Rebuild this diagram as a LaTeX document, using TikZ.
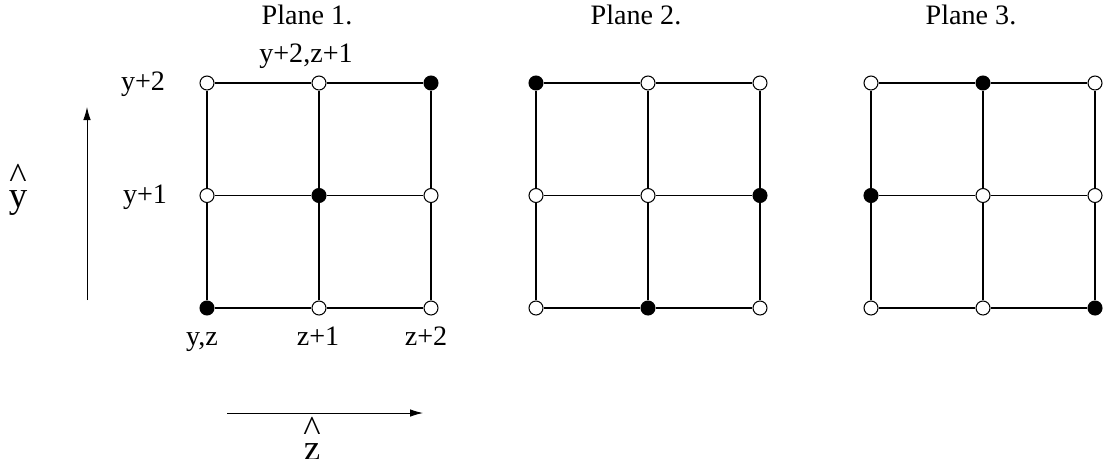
\documentclass[tikz,border=0pt]{standalone}
\usepackage{fontspec}
\setmainfont{Liberation Serif}
\usetikzlibrary{positioning,arrows.meta}

\begin{document}
\begin{tikzpicture}[
    x=0.02cm,
    y=-0.02cm,
    font=\fontsize{16}{19}\selectfont,
    site/.style={
        circle,
        draw,
        fill=white,
        line width=0.6pt,
        minimum size=0.28cm,
        inner sep=0pt
      },
    full/.style={site,fill=black},
    bond/.style={line width=0.7pt},
    hat/.style={align=center,inner sep=1pt,font=\fontsize{21}{11}\selectfont},
    arrow/.style={-{Latex[length=2.6mm,width=1.5mm]},line width=0.5pt}
    ]
    \useasboundingbox (0,0) rectangle (1105,458);

    % three planes, black site sits at column (row+plane-1) mod 3
    \foreach \p/\x in {1/207,2/536,3/871} {
        \node (title\p) at (\x+100,15) {Plane \p.};
        \foreach \c in {0,1,2} {
            \foreach \r in {0,1,2} {
                \pgfmathtruncatemacro\k{mod(\r+\p-1,3)}
                \ifnum\k=\c \def\kind{full}\else\def\kind{site}\fi
                \node[\kind] (s\p\c\r) at (\x+112*\c,308-112.5*\r) {};
              }
          }
        \foreach \i in {0,1,2} {
            \draw[bond] (s\p0\i) -- (s\p1\i) -- (s\p2\i);
            \draw[bond] (s\p\i0) -- (s\p\i1) -- (s\p\i2);
          }
      }

    % labels of plane 1
    \node (ly2) at (143,84) {y+2};
    \node (ly1) at (145,197) {y+1};
    \node (lyz2) at (306,56) {y+2,z+1};
    \node[anchor=base] (lyz) at (202,345) {y,z};
    \node[anchor=base] (lz1) at (318,345) {z+1};
    \node[anchor=base] (lz2) at (426,345) {z+2};

    % axes
    \coordinate (ytail) at (87,300);
    \coordinate (yhead) at (87,107);
    \coordinate (ztail) at (227,413);
    \coordinate (zhead) at (423,413);
    \draw[arrow] (ytail) -- (yhead);
    \draw[arrow] (ztail) -- (zhead);
    \node[hat] (yhat) at (18,190) {\^{}\\y};
    \node[hat] (zhat) at (312,439) {\^{}\\z};

  \end{tikzpicture}
\end{document}
